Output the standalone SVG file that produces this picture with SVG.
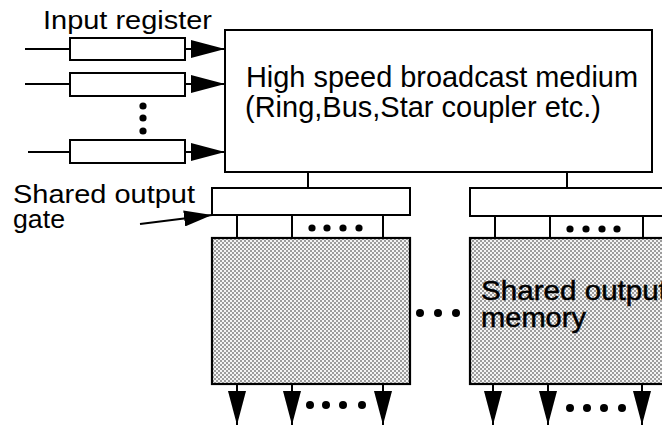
<svg xmlns="http://www.w3.org/2000/svg" width="662" height="426" viewBox="0 0 662 426">
<style>
.box{fill:#fff;stroke:#000;stroke-width:2}
.mem{fill:url(#ht);stroke:#000;stroke-width:2.2}
.ln{fill:none;stroke:#000;stroke-width:2}
.t{font-family:"Liberation Sans",Arial,Helvetica,sans-serif;fill:#000}
.dot{fill:#000}
</style>
<defs>
<pattern id="ht" width="4" height="4" patternUnits="userSpaceOnUse">
<rect width="4" height="4" fill="#f4f4f4"/>
<circle cx="1" cy="1" r="0.68" fill="#000"/>
<circle cx="3" cy="3" r="0.68" fill="#000"/>
</pattern>
<marker id="ah" viewBox="0 0 34 18" refX="34" refY="9" markerWidth="34" markerHeight="18" markerUnits="userSpaceOnUse" orient="auto">
<path d="M0,0 L34,9 L0,18 z" fill="#000"/>
</marker>
<marker id="ahs" viewBox="0 0 28 16" refX="28" refY="8" markerWidth="28" markerHeight="16" markerUnits="userSpaceOnUse" orient="auto">
<path d="M0,0 L28,8 L0,16 z" fill="#000"/>
</marker>
</defs>
<rect width="662" height="426" fill="#fff"/>

<g id="label-input-register">
<text class="t" x="43" y="29" font-size="25" textLength="169" lengthAdjust="spacingAndGlyphs">Input register</text>
</g>

<g id="reg1"><rect class="box" x="70" y="38" width="115" height="22"/></g>
<g id="reg2"><rect class="box" x="70" y="73" width="115" height="23"/></g>
<g id="reg-dots">
<circle class="dot" cx="143" cy="106" r="3.6"/>
<circle class="dot" cx="143" cy="118" r="3.6"/>
<circle class="dot" cx="143" cy="131" r="3.6"/>
</g>
<g id="reg3"><rect class="box" x="70" y="140" width="115" height="23"/></g>

<g id="medium">
<rect class="box" x="225" y="30" width="427" height="142"/>
<text class="t" x="246" y="87" font-size="29" textLength="392" lengthAdjust="spacingAndGlyphs">High speed broadcast medium</text>
<text class="t" x="245" y="117" font-size="29" textLength="356" lengthAdjust="spacingAndGlyphs">(Ring,Bus,Star coupler etc.)</text>
</g>

<g id="label-gate">
<text class="t" x="13" y="203" font-size="26" textLength="182" lengthAdjust="spacingAndGlyphs">Shared output</text>
<text class="t" x="13" y="228" font-size="26" textLength="52" lengthAdjust="spacingAndGlyphs">gate</text>
</g>

<g id="gate1">
<rect class="box" x="212" y="188" width="198" height="27"/>
<line class="ln" x1="237" y1="215" x2="237" y2="238"/>
<line class="ln" x1="292" y1="215" x2="292" y2="238"/>
<line class="ln" x1="383" y1="215" x2="383" y2="238"/>
<circle class="dot" cx="312" cy="228" r="3.6"/>
<circle class="dot" cx="327" cy="228" r="3.6"/>
<circle class="dot" cx="343" cy="228" r="3.6"/>
<circle class="dot" cx="359" cy="228" r="3.6"/>
</g>

<g id="gate2">
<rect class="box" x="470" y="188" width="210" height="28"/>
<line class="ln" x1="495" y1="216" x2="495" y2="238"/>
<line class="ln" x1="550" y1="216" x2="550" y2="238"/>
<line class="ln" x1="643" y1="216" x2="643" y2="238"/>
<circle class="dot" cx="570" cy="229" r="3.6"/>
<circle class="dot" cx="586" cy="229" r="3.6"/>
<circle class="dot" cx="602" cy="229" r="3.6"/>
<circle class="dot" cx="617" cy="229" r="3.6"/>
</g>

<g id="memory1">
<rect class="mem" x="212" y="238" width="198" height="146"/>
</g>

<g id="memory-dots">
<circle class="dot" cx="420" cy="313" r="4"/>
<circle class="dot" cx="438" cy="313" r="4"/>
<circle class="dot" cx="456" cy="313" r="4"/>
</g>

<g id="memory2">
<rect class="mem" x="470" y="238" width="210" height="146"/>
<text class="t" x="481" y="300" font-size="28" stroke="#000" stroke-width="0.5" textLength="186" lengthAdjust="spacingAndGlyphs">Shared output</text>
<text class="t" x="481" y="327" font-size="28" stroke="#000" stroke-width="0.5" textLength="105" lengthAdjust="spacingAndGlyphs">memory</text>
</g>

<g id="connectors">
<line class="ln" x1="25" y1="49" x2="70" y2="49"/>
<line class="ln" x1="25" y1="84" x2="70" y2="84"/>
<line class="ln" x1="28" y1="152" x2="70" y2="152"/>
<line class="ln" x1="185" y1="49" x2="225" y2="49" marker-end="url(#ah)"/>
<line class="ln" x1="185" y1="84" x2="225" y2="84" marker-end="url(#ah)"/>
<line class="ln" x1="185" y1="152" x2="225" y2="152" marker-end="url(#ah)"/>
<line class="ln" x1="308" y1="172" x2="308" y2="188"/>
<line class="ln" x1="567" y1="172" x2="567" y2="188"/>
<line class="ln" x1="140" y1="224" x2="212" y2="215" marker-end="url(#ahs)"/>
<line class="ln" x1="237" y1="384" x2="237" y2="425" marker-end="url(#ah)"/>
<line class="ln" x1="292" y1="384" x2="292" y2="425" marker-end="url(#ah)"/>
<line class="ln" x1="383" y1="384" x2="383" y2="425" marker-end="url(#ah)"/>
<line class="ln" x1="493" y1="384" x2="493" y2="425" marker-end="url(#ah)"/>
<line class="ln" x1="548" y1="384" x2="548" y2="425" marker-end="url(#ah)"/>
<line class="ln" x1="642" y1="384" x2="642" y2="425" marker-end="url(#ah)"/>
</g>

<g id="output-dots">
<circle class="dot" cx="310" cy="405" r="4"/>
<circle class="dot" cx="326" cy="405" r="4"/>
<circle class="dot" cx="343" cy="405" r="4"/>
<circle class="dot" cx="362" cy="405" r="4"/>
<circle class="dot" cx="570" cy="408" r="4"/>
<circle class="dot" cx="587" cy="408" r="4"/>
<circle class="dot" cx="604" cy="408" r="4"/>
<circle class="dot" cx="622" cy="408" r="4"/>
</g>
</svg>
